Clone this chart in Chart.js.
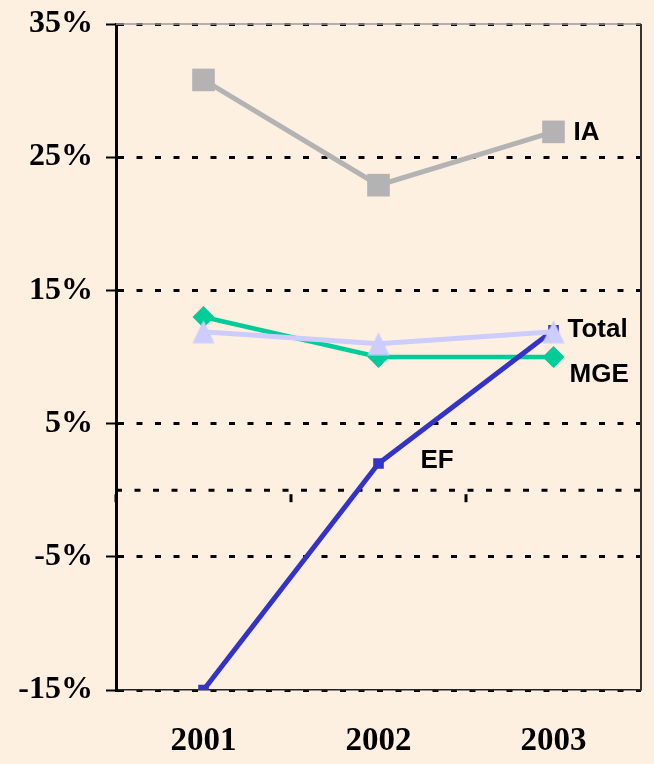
<!DOCTYPE html>
<html>
<head>
<meta charset="utf-8">
<script src="https://cdn.jsdelivr.net/npm/chart.js@4/dist/chart.umd.min.js"></script>
<style>
  html, body { margin: 0; padding: 0; background: #FEF0E1; }
  #wrap { width: 654px; height: 764px; }
</style>
</head>
<body>
<div id="wrap"><canvas id="chart" width="654" height="764"></canvas></div>
<script>
// ---- data ----
const years = ['2001', '2002', '2003'];
const iaValues = [30.8, 22.9, 26.9];
const totalValues = [11.9, 11.0, 11.9];
const mgeValues = [13.0, 10.0, 10.0];
const efValues = [-15.0, 2.0, 12.0];
const yTicks = [-15, -5, 5, 15, 25, 35];

// ---- triangle marker (centered box, like the original) ----
function makeTriangle(color) {
  const c = document.createElement('canvas');
  c.width = 24; c.height = 24;
  const g = c.getContext('2d');
  g.fillStyle = color;
  g.beginPath();
  g.moveTo(12, 0.5);
  g.lineTo(23, 23.5);
  g.lineTo(1, 23.5);
  g.closePath();
  g.fill();
  return c;
}

const DASH = [6, 12.5];

// frame, zero line, category ticks and series labels
const decorations = {
  id: 'decorations',
  beforeDatasetsDraw(chart) {
    const { ctx, chartArea: a, scales } = chart;
    const y0 = scales.y.getPixelForValue(0);
    ctx.save();
    // top + right frame
    ctx.strokeStyle = '#9a9a9a';
    ctx.lineWidth = 1.5;
    ctx.beginPath(); ctx.moveTo(a.left, a.top); ctx.lineTo(a.right, a.top); ctx.stroke();
    ctx.strokeStyle = '#333333';
    ctx.lineWidth = 2;
    ctx.beginPath(); ctx.moveTo(a.right, a.top); ctx.lineTo(a.right, a.bottom); ctx.stroke();
    // zero line
    ctx.strokeStyle = '#000';
    ctx.lineWidth = 3;
    ctx.setLineDash(DASH);
    ctx.beginPath(); ctx.moveTo(a.left, y0); ctx.lineTo(a.right, y0); ctx.stroke();
    ctx.setLineDash([]);
    // category boundary ticks below zero line
    const step = (a.right - a.left) / years.length;
    ctx.lineWidth = 3;
    for (let i = 0; i < years.length; i++) {
      const x = a.left + i * step;
      ctx.beginPath(); ctx.moveTo(x, y0 + 4); ctx.lineTo(x, y0 + 12); ctx.stroke();
    }
    ctx.restore();
  },
  afterDatasetsDraw(chart) {
    const { ctx } = chart;
    const labels = [
      { ds: 0, idx: 2, text: 'IA', dx: 20, dy: 1 },
      { ds: 1, idx: 2, text: 'Total', dx: 14, dy: -2 },
      { ds: 2, idx: 2, text: 'MGE', dx: 16, dy: 18 },
      { ds: 3, idx: 1, text: 'EF', dx: 42, dy: -3 }
    ];
    ctx.save();
    ctx.font = 'bold 26px "Liberation Sans", Arial, sans-serif';
    ctx.fillStyle = '#000';
    ctx.textAlign = 'left';
    ctx.textBaseline = 'middle';
    labels.forEach(l => {
      const pt = chart.getDatasetMeta(l.ds).data[l.idx];
      ctx.fillText(l.text, pt.x + l.dx, pt.y + l.dy);
    });
    ctx.restore();
  }
};

new Chart(document.getElementById('chart'), {
  type: 'line',
  data: {
    labels: years,
    datasets: [
      {
        label: 'IA', data: iaValues, order: 3,
        borderColor: '#B3B3B3', borderWidth: 5,
        pointStyle: 'rect', pointRadius: 16, pointBorderWidth: 0,
        pointBackgroundColor: '#B3B3B3'
      },
      {
        label: 'Total', data: totalValues, order: 0,
        borderColor: '#CCCCFF', borderWidth: 5,
        pointStyle: makeTriangle('#CCCCFF'), pointRadius: 12, pointBorderWidth: 0,
        pointBackgroundColor: '#CCCCFF'
      },
      {
        label: 'MGE', data: mgeValues, order: 2,
        borderColor: '#00CC99', borderWidth: 4.5,
        pointStyle: 'rectRot', pointRadius: 11, pointBorderWidth: 0,
        pointBackgroundColor: '#00CC99'
      },
      {
        label: 'EF', data: efValues, order: 1,
        borderColor: '#3333CC', borderWidth: 5,
        pointStyle: 'rect', pointRadius: 7.5, pointBorderWidth: 0,
        pointBackgroundColor: '#3333CC'
      }
    ]
  },
  options: {
    responsive: false,
    animation: false,
    events: [],
    layout: { autoPadding: false, padding: { top: 24, right: 13, left: 0, bottom: 0 } },
    elements: { line: { tension: 0 } },
    plugins: { legend: { display: false }, tooltip: { enabled: false } },
    scales: {
      x: {
        offset: true,
        grid: { display: false, drawTicks: false },
        border: { display: true, color: '#222', width: 1.5 },
        ticks: {
          padding: 32,
          color: '#000',
          font: { family: '"Liberation Serif", "Times New Roman", serif', size: 33, weight: 'bold' }
        },
        afterFit(scale) {
          scale.height = 74;
          scale.paddingLeft = 0; scale.paddingRight = 0;
        }
      },
      y: {
        min: -15, max: 35,
        afterBuildTicks(scale) { scale.ticks = yTicks.map(v => ({ value: v })); },
        grid: {
          color: '#000', lineWidth: 3,
          drawTicks: true, tickLength: 10, tickWidth: 2, tickColor: '#000'
        },
        border: { display: true, color: '#000', width: 3, dash: DASH },
        ticks: {
          padding: 13,
          color: '#000',
          font: { family: '"Liberation Serif", "Times New Roman", serif', size: 32, weight: 'bold' },
          callback: v => v + '%'
        },
        afterFit(scale) {
          scale.width = 116;
          scale.paddingTop = 0; scale.paddingBottom = 0;
        }
      }
    }
  },
  plugins: [decorations]
});
</script>
</body>
</html>
